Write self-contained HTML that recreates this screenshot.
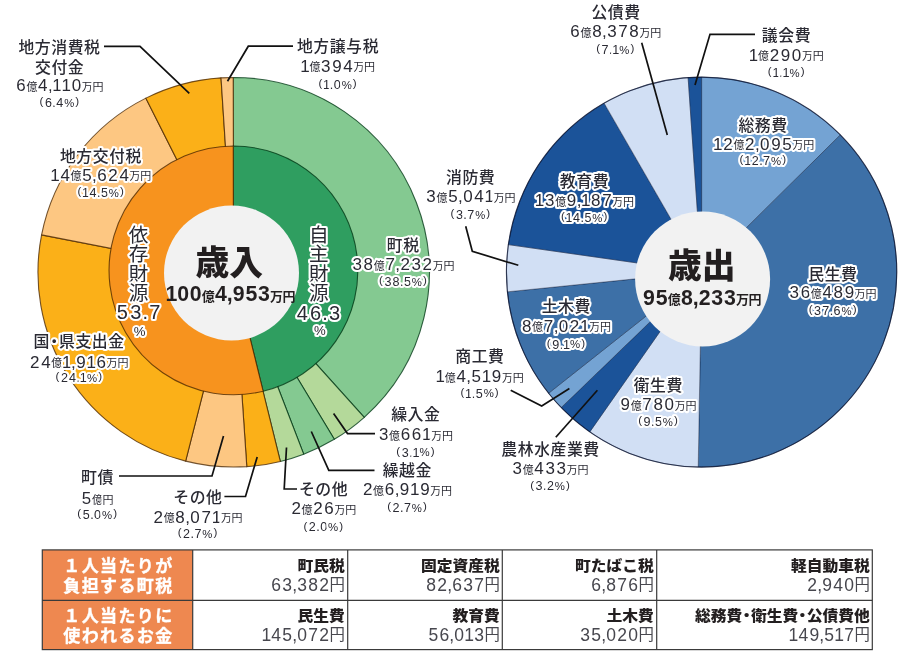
<!DOCTYPE html>
<html lang="ja">
<head>
<meta charset="utf-8">
<title>歳入・歳出</title>
<style>
html,body{margin:0;padding:0;background:#fff;}
body{width:900px;height:653px;overflow:hidden;}
svg{display:block;font-family:"Liberation Sans", "Noto Sans CJK JP", sans-serif;}
text{white-space:pre;}
</style>
</head>
<body>
<svg width="900" height="653" viewBox="0 0 900 653">
<rect width="900" height="653" fill="#fff"/>
<g id="revenue-chart">
<path d="M233.65,272.25L233.21,77.45A195.70,194.8 0 0 1 364.27,417.31Z" fill="#84c991" stroke="rgba(0,55,20,.78)" stroke-width="1.1" stroke-linejoin="round"/>
<path d="M233.65,272.25L364.27,417.31A195.70,194.8 0 0 1 334.30,439.31Z" fill="#b4d99a" stroke="rgba(0,55,20,.78)" stroke-width="1.1" stroke-linejoin="round"/>
<path d="M233.65,272.25L334.30,439.31A195.70,194.8 0 0 1 303.69,454.15Z" fill="#84c991" stroke="rgba(0,55,20,.78)" stroke-width="1.1" stroke-linejoin="round"/>
<path d="M233.65,272.25L303.69,454.15A195.70,194.8 0 0 1 280.33,461.43Z" fill="#b4d99a" stroke="rgba(0,55,20,.78)" stroke-width="1.1" stroke-linejoin="round"/>
<path d="M233.65,272.25L280.33,461.43A195.70,194.8 0 0 1 246.79,466.61Z" fill="#fbb018" stroke="rgba(75,40,0,.78)" stroke-width="1.1" stroke-linejoin="round"/>
<path d="M233.65,272.25L246.79,466.61A195.70,194.8 0 0 1 185.64,461.10Z" fill="#fdc782" stroke="rgba(75,40,0,.78)" stroke-width="1.1" stroke-linejoin="round"/>
<path d="M233.65,272.25L185.64,461.10A195.70,194.8 0 0 1 41.58,234.91Z" fill="#fbb018" stroke="rgba(75,40,0,.78)" stroke-width="1.1" stroke-linejoin="round"/>
<path d="M233.65,272.25L41.58,234.91A195.70,194.8 0 0 1 145.90,98.13Z" fill="#fdc782" stroke="rgba(75,40,0,.78)" stroke-width="1.1" stroke-linejoin="round"/>
<path d="M233.65,272.25L145.90,98.13A195.70,194.8 0 0 1 221.02,77.86Z" fill="#fbb018" stroke="rgba(75,40,0,.78)" stroke-width="1.1" stroke-linejoin="round"/>
<path d="M233.65,272.25L221.02,77.86A195.70,194.8 0 0 1 233.21,77.45Z" fill="#fdc782" stroke="rgba(75,40,0,.78)" stroke-width="1.1" stroke-linejoin="round"/>
<path d="M233.45,270.40L233.23,146.00A124.40,124.4 0 0 1 263.12,391.21Z" fill="#2f9e60" stroke="rgba(0,55,20,.78)" stroke-width="1.1" stroke-linejoin="round"/>
<path d="M233.45,270.40L263.12,391.21A124.40,124.4 0 1 1 233.23,146.00Z" fill="#f7931e" stroke="rgba(75,40,0,.78)" stroke-width="1.1" stroke-linejoin="round"/>
<circle cx="231.5" cy="273" r="67.5" fill="#f2f2f2"/>
</g>
<g id="expenditure-chart">
<path d="M701.60,272.10L701.60,77.10A195.19,195.0 0 0 1 840.34,134.94Z" fill="#74a3d3" stroke="rgba(0,10,40,.6)" stroke-width="0.6" stroke-linejoin="round"/>
<path d="M701.60,272.10L840.34,134.94A195.19,195.0 0 0 1 698.19,467.07Z" fill="#3d70a7" stroke="rgba(0,10,40,.6)" stroke-width="0.6" stroke-linejoin="round"/>
<path d="M701.60,272.10L698.19,467.07A195.19,195.0 0 0 1 589.78,431.93Z" fill="#d1dff4" stroke="rgba(0,10,40,.6)" stroke-width="0.6" stroke-linejoin="round"/>
<path d="M701.60,272.10L589.78,431.93A195.19,195.0 0 0 1 561.19,407.56Z" fill="#1b5399" stroke="rgba(0,10,40,.6)" stroke-width="0.6" stroke-linejoin="round"/>
<path d="M701.60,272.10L561.19,407.56A195.19,195.0 0 0 1 548.63,393.22Z" fill="#74a3d3" stroke="rgba(0,10,40,.6)" stroke-width="0.6" stroke-linejoin="round"/>
<path d="M701.60,272.10L548.63,393.22A195.19,195.0 0 0 1 507.40,291.81Z" fill="#3d70a7" stroke="rgba(0,10,40,.6)" stroke-width="0.6" stroke-linejoin="round"/>
<path d="M701.60,272.10L507.40,291.81A195.19,195.0 0 0 1 508.35,244.62Z" fill="#d1dff4" stroke="rgba(0,10,40,.6)" stroke-width="0.6" stroke-linejoin="round"/>
<path d="M701.60,272.10L508.35,244.62A195.19,195.0 0 0 1 604.15,103.14Z" fill="#1b5399" stroke="rgba(0,10,40,.6)" stroke-width="0.6" stroke-linejoin="round"/>
<path d="M701.60,272.10L604.15,103.14A195.19,195.0 0 0 1 688.12,77.57Z" fill="#d1dff4" stroke="rgba(0,10,40,.6)" stroke-width="0.6" stroke-linejoin="round"/>
<path d="M701.60,272.10L688.12,77.57A195.19,195.0 0 0 1 701.60,77.10Z" fill="#1b5399" stroke="rgba(0,10,40,.6)" stroke-width="0.6" stroke-linejoin="round"/>
<ellipse cx="701.6" cy="272.1" rx="195.19" ry="195.0" fill="none" stroke="rgba(0,10,40,.72)" stroke-width="1.1"/>
<circle cx="702.6" cy="279" r="67.5" fill="#f2f2f2"/>
</g>
<g fill="none" stroke="#111" stroke-width="1.7" stroke-linejoin="miter">
<polyline points="104,46.3 140,46.3 189.3,93.3"/>
<polyline points="293,46.2 248.3,46.2 227.5,81.2"/>
<polyline points="119,476 212,476 223.5,436"/>
<polyline points="224.4,496.5 245.5,496.5 257.2,457"/>
<polyline points="297,489 284.2,489 286.5,447.5"/>
<polyline points="374.5,470.3 328.8,470.3 311.3,431.5"/>
<polyline points="375,433.6 347.5,433.6 333.6,413.5"/>
<polyline points="641.7,42.7 667.3,135"/>
<polyline points="755,34.3 710,34.3 695,85"/>
<polyline points="465.7,226.3 472.3,251.3 518.3,265.3"/>
<polyline points="510.7,390.3 541.7,406 569.4,388.5"/>
<polyline points="597.4,390.2 555.8,437.3"/>
</g>
<g id="labels" fill="#2a2a33" stroke="#fff" stroke-width="4.2" stroke-linejoin="round" paint-order="stroke">
<g><text x="18.45 34.85 51.25 67.65 84.05" y="53.3" font-size="15.9" font-weight="500">地方消費税</text><text x="35.05 51.45 67.85" y="72.5" font-size="15.9" font-weight="500">交付金</text><text><tspan x="16.27" y="90.6" font-size="17.0">6</tspan><tspan x="26.4" y="90.5" font-size="11">億</tspan><tspan x="38.07 47.94 52.17 61.47 71.67" y="90.6" font-size="17.0">4,110</tspan><tspan x="81.8 92.5" y="90.5" font-size="11">万円</tspan></text><text><tspan x="39.57" y="104.9" font-size="11.6">(</tspan><tspan x="44.9 52.35 56.3" y="106.8" font-size="12.6">6.4</tspan><tspan x="64.13" y="106.6" font-size="11.4">%</tspan><tspan x="75.37" y="104.9" font-size="11.6">)</tspan></text></g>
<g><text x="297.05 313.45 329.85 346.25 362.65" y="52.4" font-size="15.9" font-weight="500">地方譲与税</text><text><tspan x="300.17" y="71.5" font-size="17.0">1</tspan><tspan x="309.4" y="71.4" font-size="11">億</tspan><tspan x="321.07 332.17 343.27" y="71.5" font-size="17.0">394</tspan><tspan x="353.4 364.1" y="71.4" font-size="11">万円</tspan></text><text><tspan x="318.47" y="87.4" font-size="11.6">(</tspan><tspan x="323.1 329.85 333.8" y="89.3" font-size="12.6">1.0</tspan><tspan x="341.63" y="89.1" font-size="11.4">%</tspan><tspan x="352.87" y="87.4" font-size="11.6">)</tspan></text></g>
<g><text x="59.95 76.35 92.75 109.15 125.55" y="162.3" font-size="15.9" font-weight="500">地方交付税</text><text><tspan x="50.22 60.42" y="180.5" font-size="17.0">14</tspan><tspan x="70.55" y="180.4" font-size="11">億</tspan><tspan x="82.22 92.09 97.22 108.32 119.42" y="180.5" font-size="17.0">5,624</tspan><tspan x="129.55 140.25" y="180.4" font-size="11">万円</tspan></text><text><tspan x="77.47" y="195.1" font-size="11.6">(</tspan><tspan x="82.1 89.6 97.05 101" y="197" font-size="12.6">14.5</tspan><tspan x="108.83" y="196.8" font-size="11.4">%</tspan><tspan x="120.07" y="195.1" font-size="11.6">)</tspan></text></g>
<g><text x="33.45 46.25 59.05 75.45 91.85 108.25" y="346.8" font-size="15.9" font-weight="500">国・県支出金</text><text><tspan x="30.12 41.22" y="367.5" font-size="17.0">24</tspan><tspan x="51.35" y="367.4" font-size="11">億</tspan><tspan x="62.12 71.09 76.22 86.42 96.62" y="367.5" font-size="17.0">1,916</tspan><tspan x="106.75 117.45" y="367.4" font-size="11">万円</tspan></text><text><tspan x="55.57" y="380.4" font-size="11.6">(</tspan><tspan x="60.9 69.1 76.55 79.8" y="382.3" font-size="12.6">24.1</tspan><tspan x="86.93" y="382.1" font-size="11.4">%</tspan><tspan x="98.17" y="380.4" font-size="11.6">)</tspan></text></g>
<g><text x="81.05 97.45" y="483.3" font-size="15.9" font-weight="500">町債</text><text><tspan x="81.77" y="504" font-size="17.0">5</tspan><tspan x="91.9 102.6" y="503.9" font-size="11">億円</tspan></text><text><tspan x="77.37" y="517.1" font-size="11.6">(</tspan><tspan x="82.7 90.15 94.1" y="519" font-size="12.6">5.0</tspan><tspan x="101.93" y="518.8" font-size="11.4">%</tspan><tspan x="113.17" y="517.1" font-size="11.6">)</tspan></text></g>
<g><text x="173.25 189.65 206.05" y="502.9" font-size="15.9" font-weight="500">その他</text><text><tspan x="153.57" y="522.5" font-size="17.0">2</tspan><tspan x="163.7" y="522.4" font-size="11">億</tspan><tspan x="175.37 185.24 190.37 201.47 211.67" y="522.5" font-size="17.0">8,071</tspan><tspan x="220.9 231.6" y="522.4" font-size="11">万円</tspan></text><text><tspan x="177.77" y="536.1" font-size="11.6">(</tspan><tspan x="183.1 190.55 194.5" y="538" font-size="12.6">2.7</tspan><tspan x="202.33" y="537.8" font-size="11.4">%</tspan><tspan x="213.57" y="536.1" font-size="11.6">)</tspan></text></g>
<g><text x="298.95 315.35 331.75" y="495.1" font-size="15.9" font-weight="500">その他</text><text><tspan x="291.42" y="514.2" font-size="17.0">2</tspan><tspan x="301.55" y="514.1" font-size="11">億</tspan><tspan x="313.22 324.32" y="514.2" font-size="17.0">26</tspan><tspan x="334.45 345.15" y="514.1" font-size="11">万円</tspan></text><text><tspan x="303.47" y="529.5" font-size="11.6">(</tspan><tspan x="308.8 316.25 320.2" y="531.4" font-size="12.6">2.0</tspan><tspan x="328.03" y="531.2" font-size="11.4">%</tspan><tspan x="339.27" y="529.5" font-size="11.6">)</tspan></text></g>
<g><text x="382.65 399.05 415.45" y="475.8" font-size="15.9" font-weight="500">繰越金</text><text><tspan x="362.97" y="495" font-size="17.0">2</tspan><tspan x="373.1" y="494.9" font-size="11">億</tspan><tspan x="384.77 394.64 399.77 409.97 420.17" y="495" font-size="17.0">6,919</tspan><tspan x="430.3 441" y="494.9" font-size="11">万円</tspan></text><text><tspan x="387.17" y="509.8" font-size="11.6">(</tspan><tspan x="392.5 399.95 403.9" y="511.7" font-size="12.6">2.7</tspan><tspan x="411.73" y="511.5" font-size="11.4">%</tspan><tspan x="422.97" y="509.8" font-size="11.6">)</tspan></text></g>
<g><text x="391.15 407.55 423.95" y="420.3" font-size="15.9" font-weight="500">繰入金</text><text><tspan x="378.97" y="440" font-size="17.0">3</tspan><tspan x="389.1" y="439.9" font-size="11">億</tspan><tspan x="400.77 411.87 422.07" y="440" font-size="17.0">661</tspan><tspan x="431.3 442" y="439.9" font-size="11">万円</tspan></text><text><tspan x="396.37" y="454.6" font-size="11.6">(</tspan><tspan x="401.7 409.15 412.4" y="456.5" font-size="12.6">3.1</tspan><tspan x="419.53" y="456.3" font-size="11.4">%</tspan><tspan x="430.77" y="454.6" font-size="11.6">)</tspan></text></g>
<g><text x="386.85 403.25" y="251" font-size="15.9" font-weight="500">町税</text><text><tspan x="352.52 363.62" y="269.8" font-size="17.0">38</tspan><tspan x="373.75" y="269.7" font-size="11">億</tspan><tspan x="385.42 395.29 400.42 411.52 422.62" y="269.8" font-size="17.0">7,232</tspan><tspan x="432.75 443.45" y="269.7" font-size="11">万円</tspan></text><text><tspan x="379.07" y="284.1" font-size="11.6">(</tspan><tspan x="384.4 392.6 400.05 404" y="286" font-size="12.6">38.5</tspan><tspan x="411.83" y="285.8" font-size="11.4">%</tspan><tspan x="423.07" y="284.1" font-size="11.6">)</tspan></text></g>
<g><text x="591.45 607.85 624.25" y="18.1" font-size="15.9" font-weight="500">公債費</text><text><tspan x="570.37" y="36.7" font-size="17.0">6</tspan><tspan x="580.5" y="36.6" font-size="11">億</tspan><tspan x="592.17 602.04 607.17 618.27 629.37" y="36.7" font-size="17.0">8,378</tspan><tspan x="639.5 650.2" y="36.6" font-size="11">万円</tspan></text><text><tspan x="596.17" y="51.9" font-size="11.6">(</tspan><tspan x="601.5 608.95 612.2" y="53.8" font-size="12.6">7.1</tspan><tspan x="619.33" y="53.6" font-size="11.4">%</tspan><tspan x="630.57" y="51.9" font-size="11.6">)</tspan></text></g>
<g><text x="761.85 778.25 794.65" y="40.9" font-size="15.9" font-weight="500">議会費</text><text><tspan x="748.77" y="60.5" font-size="17.0">1</tspan><tspan x="758" y="60.4" font-size="11">億</tspan><tspan x="769.67 780.77 791.87" y="60.5" font-size="17.0">290</tspan><tspan x="802 812.7" y="60.4" font-size="11">万円</tspan></text><text><tspan x="767.77" y="75.4" font-size="11.6">(</tspan><tspan x="772.4 779.15 782.4" y="77.3" font-size="12.6">1.1</tspan><tspan x="789.53" y="77.1" font-size="11.4">%</tspan><tspan x="800.77" y="75.4" font-size="11.6">)</tspan></text></g>
<g><text x="738.45 754.85 771.25" y="130.6" font-size="15.9" font-weight="500">総務費</text><text><tspan x="713.12 723.32" y="149.5" font-size="17.0">12</tspan><tspan x="733.45" y="149.4" font-size="11">億</tspan><tspan x="745.12 754.99 760.12 771.22 782.32" y="149.5" font-size="17.0">2,095</tspan><tspan x="792.45 803.15" y="149.4" font-size="11">万円</tspan></text><text><tspan x="739.57" y="163.4" font-size="11.6">(</tspan><tspan x="744.2 751.7 759.15 763.1" y="165.3" font-size="12.6">12.7</tspan><tspan x="770.93" y="165.1" font-size="11.4">%</tspan><tspan x="782.17" y="163.4" font-size="11.6">)</tspan></text></g>
<g><text x="808.25 824.65 841.05" y="279.7" font-size="15.9" font-weight="500">民生費</text><text><tspan x="789.62 800.72" y="298" font-size="17.0">36</tspan><tspan x="810.85" y="297.9" font-size="11">億</tspan><tspan x="822.52 833.62 844.72" y="298" font-size="17.0">489</tspan><tspan x="854.85 865.55" y="297.9" font-size="11">万円</tspan></text><text><tspan x="808.67" y="313.4" font-size="11.6">(</tspan><tspan x="814 822.2 829.65 833.6" y="315.3" font-size="12.6">37.6</tspan><tspan x="841.43" y="315.1" font-size="11.4">%</tspan><tspan x="852.67" y="313.4" font-size="11.6">)</tspan></text></g>
<g><text x="633.65 650.05 666.45" y="391.1" font-size="15.9" font-weight="500">衛生費</text><text><tspan x="620.57" y="409.7" font-size="17.0">9</tspan><tspan x="630.7" y="409.6" font-size="11">億</tspan><tspan x="642.37 653.47 664.57" y="409.7" font-size="17.0">780</tspan><tspan x="674.7 685.4" y="409.6" font-size="11">万円</tspan></text><text><tspan x="638.17" y="424.3" font-size="11.6">(</tspan><tspan x="643.5 650.95 654.9" y="426.2" font-size="12.6">9.5</tspan><tspan x="662.73" y="426" font-size="11.4">%</tspan><tspan x="673.97" y="424.3" font-size="11.6">)</tspan></text></g>
<g><text x="501.35 517.75 534.15 550.55 566.95 583.35" y="455.1" font-size="15.9" font-weight="500">農林水産業費</text><text><tspan x="512.57" y="474.4" font-size="17.0">3</tspan><tspan x="522.7" y="474.3" font-size="11">億</tspan><tspan x="534.37 545.47 556.57" y="474.4" font-size="17.0">433</tspan><tspan x="566.7 577.4" y="474.3" font-size="11">万円</tspan></text><text><tspan x="530.17" y="488.5" font-size="11.6">(</tspan><tspan x="535.5 542.95 546.9" y="490.4" font-size="12.6">3.2</tspan><tspan x="554.73" y="490.2" font-size="11.4">%</tspan><tspan x="565.97" y="488.5" font-size="11.6">)</tspan></text></g>
<g><text x="455.25 471.65 488.05" y="362.3" font-size="15.9" font-weight="500">商工費</text><text><tspan x="435.57" y="381.7" font-size="17.0">1</tspan><tspan x="444.8" y="381.6" font-size="11">億</tspan><tspan x="456.47 466.34 471.47 481.67 491.87" y="381.7" font-size="17.0">4,519</tspan><tspan x="502 512.7" y="381.6" font-size="11">万円</tspan></text><text><tspan x="460.47" y="395.6" font-size="11.6">(</tspan><tspan x="465.1 471.85 475.8" y="397.5" font-size="12.6">1.5</tspan><tspan x="483.63" y="397.3" font-size="11.4">%</tspan><tspan x="494.87" y="395.6" font-size="11.6">)</tspan></text></g>
<g><text x="541.65 558.05 574.45" y="312.4" font-size="15.9" font-weight="500">土木費</text><text><tspan x="521.97" y="331.5" font-size="17.0">8</tspan><tspan x="532.1" y="331.4" font-size="11">億</tspan><tspan x="543.77 553.64 558.77 569.87 580.07" y="331.5" font-size="17.0">7,021</tspan><tspan x="589.3 600" y="331.4" font-size="11">万円</tspan></text><text><tspan x="546.87" y="346.6" font-size="11.6">(</tspan><tspan x="552.2 559.65 562.9" y="348.5" font-size="12.6">9.1</tspan><tspan x="570.03" y="348.3" font-size="11.4">%</tspan><tspan x="581.27" y="346.6" font-size="11.6">)</tspan></text></g>
<g><text x="446.05 462.45 478.85" y="182.7" font-size="15.9" font-weight="500">消防費</text><text><tspan x="426.37" y="202" font-size="17.0">3</tspan><tspan x="436.5" y="201.9" font-size="11">億</tspan><tspan x="448.17 458.04 463.17 474.27 484.47" y="202" font-size="17.0">5,041</tspan><tspan x="493.7 504.4" y="201.9" font-size="11">万円</tspan></text><text><tspan x="450.57" y="217.3" font-size="11.6">(</tspan><tspan x="455.9 463.35 467.3" y="219.2" font-size="12.6">3.7</tspan><tspan x="475.13" y="219" font-size="11.4">%</tspan><tspan x="486.37" y="217.3" font-size="11.6">)</tspan></text></g>
<g><text x="559.85 576.25 592.65" y="187.2" font-size="15.9" font-weight="500">教育費</text><text><tspan x="534.82 545.02" y="205.6" font-size="17.0">13</tspan><tspan x="555.15" y="205.5" font-size="11">億</tspan><tspan x="566.82 576.69 580.92 591.12 602.22" y="205.6" font-size="17.0">9,187</tspan><tspan x="612.35 623.05" y="205.5" font-size="11">万円</tspan></text><text><tspan x="560.97" y="220" font-size="11.6">(</tspan><tspan x="565.6 573.1 580.55 584.5" y="221.9" font-size="12.6">14.5</tspan><tspan x="592.33" y="221.7" font-size="11.4">%</tspan><tspan x="603.57" y="220" font-size="11.6">)</tspan></text></g>
<text><tspan x="128.8" y="241.5" font-size="19.6">依</tspan><tspan x="128.8" y="261" font-size="19.6">存</tspan><tspan x="128.8" y="280.5" font-size="19.6">財</tspan><tspan x="128.8" y="300" font-size="19.6">源</tspan><tspan x="116.84 130.24 142.52 149.24" y="319.4" font-size="20.0">53.7</tspan><tspan x="133.73" y="335.6" font-size="13.2">%</tspan></text>
<text><tspan x="309" y="241.5" font-size="19.6">自</tspan><tspan x="309" y="261" font-size="19.6">主</tspan><tspan x="309" y="280.5" font-size="19.6">財</tspan><tspan x="309" y="300" font-size="19.6">源</tspan><tspan x="296.64 310.04 322.32 329.04" y="319.7" font-size="20.0">46.3</tspan><tspan x="313.93" y="334.6" font-size="13.2">%</tspan></text>
</g>
<g id="totals" fill="#231f20">
<text x="229.2" y="274.5" text-anchor="middle" font-size="33.8" font-weight="900" fill="#231f20">歳入</text>
<text font-weight="700"><tspan x="165.58 177.18 189.78" y="301.2" font-size="21.3">100</tspan><tspan x="201.8" y="300.6" font-size="13">億</tspan><tspan x="214.98 226.84 232.78 245.38 257.98" y="301.2" font-size="21.3">4,953</tspan><tspan x="270 282.6" y="300.6" font-size="13">万円</tspan></text>
<text x="701.8" y="277.5" text-anchor="middle" font-size="33.8" font-weight="900" fill="#231f20">歳出</text>
<text font-weight="700"><tspan x="643.08 655.68" y="305" font-size="21.3">95</tspan><tspan x="667.7" y="304.4" font-size="13">億</tspan><tspan x="680.88 692.74 698.68 711.28 723.88" y="305" font-size="21.3">8,233</tspan><tspan x="735.9 748.5" y="304.4" font-size="13">万円</tspan></text>
</g>
<g id="per-capita-table">
<rect x="42.3" y="549.9" width="150.4" height="99.7" fill="#ee8850"/>
<g fill="none" stroke="#3a3a3a" stroke-width="1.2">
<rect x="42.3" y="549.9" width="830" height="99.7"/>
<line x1="42.3" y1="600.3" x2="872.3" y2="600.3"/>
<line x1="192.7" y1="549.9" x2="192.7" y2="649.6"/>
<line x1="347.7" y1="549.9" x2="347.7" y2="649.6"/>
<line x1="502.3" y1="549.9" x2="502.3" y2="649.6"/>
<line x1="656.7" y1="549.9" x2="656.7" y2="649.6"/>
</g>
<text x="63.3 81.68 100.06 118.44 136.82 155.2" y="571.9" font-size="17.0" font-weight="700" fill="#fff" stroke="#fff" stroke-width="0.35">１人当たりが</text>
<text x="63.3 81.68 100.06 118.44 136.82 155.2" y="592" font-size="17.0" font-weight="700" fill="#fff" stroke="#fff" stroke-width="0.35">負担する町税</text>
<text x="63.3 81.68 100.06 118.44 136.82 155.2" y="621.9" font-size="17.0" font-weight="700" fill="#fff" stroke="#fff" stroke-width="0.35">１人当たりに</text>
<text x="63.3 81.68 100.06 118.44 136.82 155.2" y="642.3" font-size="17.0" font-weight="700" fill="#fff" stroke="#fff" stroke-width="0.35">使われるお金</text>
<g><text transform="scale(1.08 1)" x="275.5 290.08 304.67" y="570.6" font-size="14.6" font-weight="900" fill="#231f20">町民税</text><text fill="#47474e"><tspan x="271.34 282.34 292.17 297.14 308.14 319.14" y="591" font-size="17.5">63,382</tspan><tspan x="329.6" y="590.4" font-size="15.4">円</tspan></text></g>
<g><text transform="scale(1.08 1)" x="389.85 404.44 419.02 433.6 448.19" y="570.6" font-size="14.6" font-weight="900" fill="#231f20">固定資産税</text><text fill="#47474e"><tspan x="426.34 437.34 447.17 452.14 463.14 474.14" y="591" font-size="17.5">82,637</tspan><tspan x="484.6" y="590.4" font-size="15.4">円</tspan></text></g>
<g><text transform="scale(1.08 1)" x="532.45 547.03 561.61 576.2 590.78" y="570.6" font-size="14.6" font-weight="900" fill="#231f20">町たばこ税</text><text fill="#47474e"><tspan x="591.33 601.17 606.13 617.13 628.13" y="591" font-size="17.5">6,876</tspan><tspan x="638.6" y="590.4" font-size="15.4">円</tspan></text></g>
<g><text transform="scale(1.08 1)" x="732.45 747.03 761.61 776.2 790.78" y="570.6" font-size="14.6" font-weight="900" fill="#231f20">軽自動車税</text><text fill="#47474e"><tspan x="807.33 817.17 822.13 833.13 844.13" y="591" font-size="17.5">2,940</tspan><tspan x="854.6" y="590.4" font-size="15.4">円</tspan></text></g>
<g><text transform="scale(1.08 1)" x="275.5 290.08 304.67" y="620.6" font-size="14.6" font-weight="900" fill="#231f20">民生費</text><text fill="#47474e"><tspan x="261.39 271.34 282.34 292.17 297.14 308.14 319.14" y="641" font-size="17.5">145,072</tspan><tspan x="329.6" y="640.4" font-size="15.4">円</tspan></text></g>
<g><text transform="scale(1.08 1)" x="419.02 433.6 448.19" y="620.6" font-size="14.6" font-weight="900" fill="#231f20">教育費</text><text fill="#47474e"><tspan x="428.44 439.44 449.27 454.24 464.19 474.13" y="641" font-size="17.5">56,013</tspan><tspan x="484.6" y="640.4" font-size="15.4">円</tspan></text></g>
<g><text transform="scale(1.08 1)" x="561.61 576.2 590.78" y="620.6" font-size="14.6" font-weight="900" fill="#231f20">土木費</text><text fill="#47474e"><tspan x="580.33 591.33 601.17 606.13 617.13 628.13" y="641" font-size="17.5">35,020</tspan><tspan x="638.6" y="640.4" font-size="15.4">円</tspan></text></g>
<g><text transform="scale(1.08 1)" x="643.6 658.19 672.77 684.04 695.32 709.9 724.48 735.76 747.03 761.61 776.2 790.78" y="620.6" font-size="14.6" font-weight="900" fill="#231f20">総務費・衛生費・公債費他</text><text fill="#47474e"><tspan x="788.48 798.43 809.43 819.27 824.23 834.18 844.13" y="641" font-size="17.5">149,517</tspan><tspan x="854.6" y="640.4" font-size="15.4">円</tspan></text></g>
</g>
</svg>
</body>
</html>
